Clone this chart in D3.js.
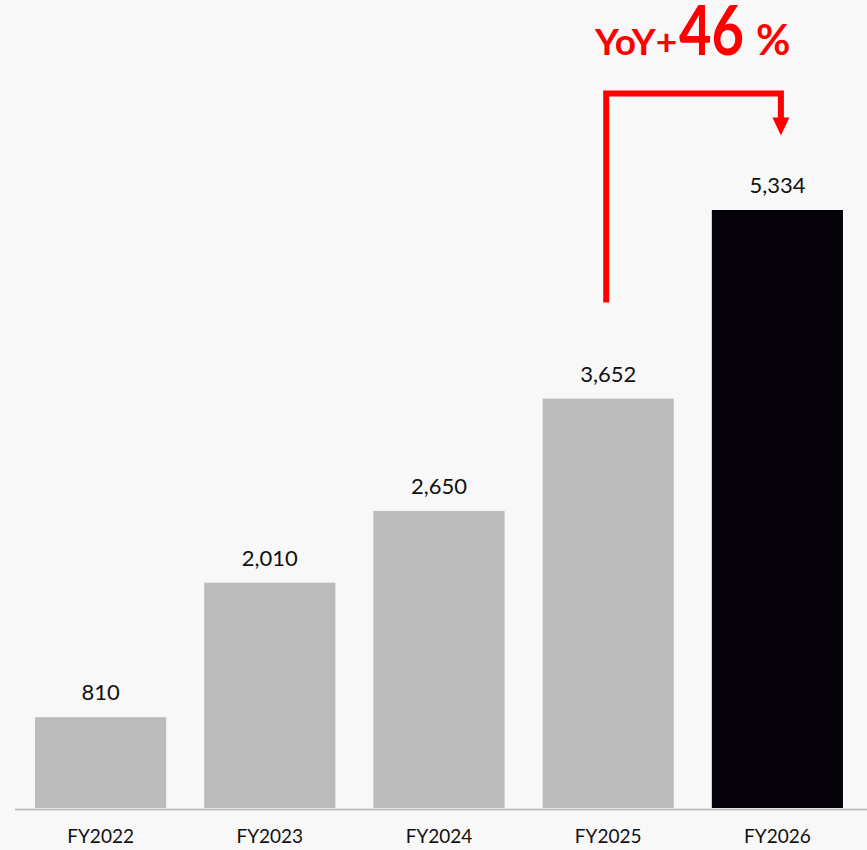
<!DOCTYPE html>
<html>
<head>
<meta charset="utf-8">
<script src="https://cdn.jsdelivr.net/npm/d3@7"></script>
<style>
  html, body { margin: 0; padding: 0; background: #f8f8f8; }
  svg { display: block; }
  text { font-family: Lato, "Open Sans", sans-serif; }
</style>
</head>
<body>
<svg id="chart" width="867" height="850"></svg>
<script>
const categories = ["FY2022", "FY2023", "FY2024", "FY2025", "FY2026"];
const values = [810, 2010, 2650, 3652, 5334];
const valueLabels = ["810", "2,010", "2,650", "3,652", "5,334"];
const barColors = ["#bbbbbb", "#bbbbbb", "#bbbbbb", "#bbbbbb", "#050209"];
const growthLabel = { prefix: "YoY+", number: "46", suffix: "%" };

const svg = d3.select("#chart");
const W = 867, H = 850;
const baseY = 808;

const x = d3.scaleBand()
  .domain(categories)
  .range([16, 862])
  .paddingInner(0.225)
  .paddingOuter(0.1125);

const y = d3.scaleLinear()
  .domain([0, 5334])
  .range([baseY, 210]);

// bars
svg.selectAll("rect.bar")
  .data(categories)
  .join("rect")
  .attr("class", "bar")
  .attr("x", d => x(d))
  .attr("width", x.bandwidth())
  .attr("y", (d, i) => y(values[i]))
  .attr("height", (d, i) => baseY - y(values[i]))
  .attr("fill", (d, i) => barColors[i]);

// baseline
svg.append("line")
  .attr("x1", 15).attr("x2", W)
  .attr("y1", baseY + 1.5).attr("y2", baseY + 1.5)
  .attr("stroke", "#b4b4b4").attr("stroke-width", 1.5);

// value labels
svg.selectAll("text.val")
  .data(categories)
  .join("text")
  .attr("class", "val")
  .attr("x", d => x(d) + x.bandwidth() / 2)
  .attr("y", (d, i) => y(values[i]) - 17)
  .attr("text-anchor", "middle")
  .attr("font-size", 22)
  .attr("fill", "#111")
  .text((d, i) => valueLabels[i]);

// category axis
const xAxis = svg.append("g")
  .attr("transform", `translate(0,${baseY})`)
  .call(d3.axisBottom(x).tickSize(0).tickPadding(22));
xAxis.select(".domain").remove();
xAxis.selectAll("text")
  .attr("font-size", 19)
  .attr("fill", "#111")
  .attr("font-family", "Lato, 'Open Sans', sans-serif");

// growth connector between the last two bars
const red = "#ff0000";
const xFrom = x("FY2025") + x.bandwidth() / 2 - 2;
const xTo = x("FY2026") + x.bandwidth() / 2 + 3.5;
const yTop = 93.5;
const yStart = y(values[3]) - 96;
svg.append("path")
  .attr("d", `M${xFrom},${yStart} V${yTop} H${xTo} V${yTop + 28}`)
  .attr("fill", "none")
  .attr("stroke", red)
  .attr("stroke-width", 6)
  .attr("stroke-linejoin", "miter");
svg.append("path")
  .attr("d", `M${xTo - 8.5},${yTop + 24} L${xTo + 8.5},${yTop + 24} L${xTo},${yTop + 42} Z`)
  .attr("fill", red);

// growth label
const g = svg.append("text")
  .attr("y", 55)
  .attr("fill", red)
  .attr("font-weight", 700);
g.append("tspan").attr("x", 595).attr("font-size", 37).text(growthLabel.prefix);
g.append("tspan").attr("x", 679).attr("font-size", 68)
  .attr("textLength", 65).attr("lengthAdjust", "spacingAndGlyphs")
  .text(growthLabel.number);
g.append("tspan").attr("x", 756).attr("font-size", 42).text(growthLabel.suffix);
</script>
</body>
</html>
